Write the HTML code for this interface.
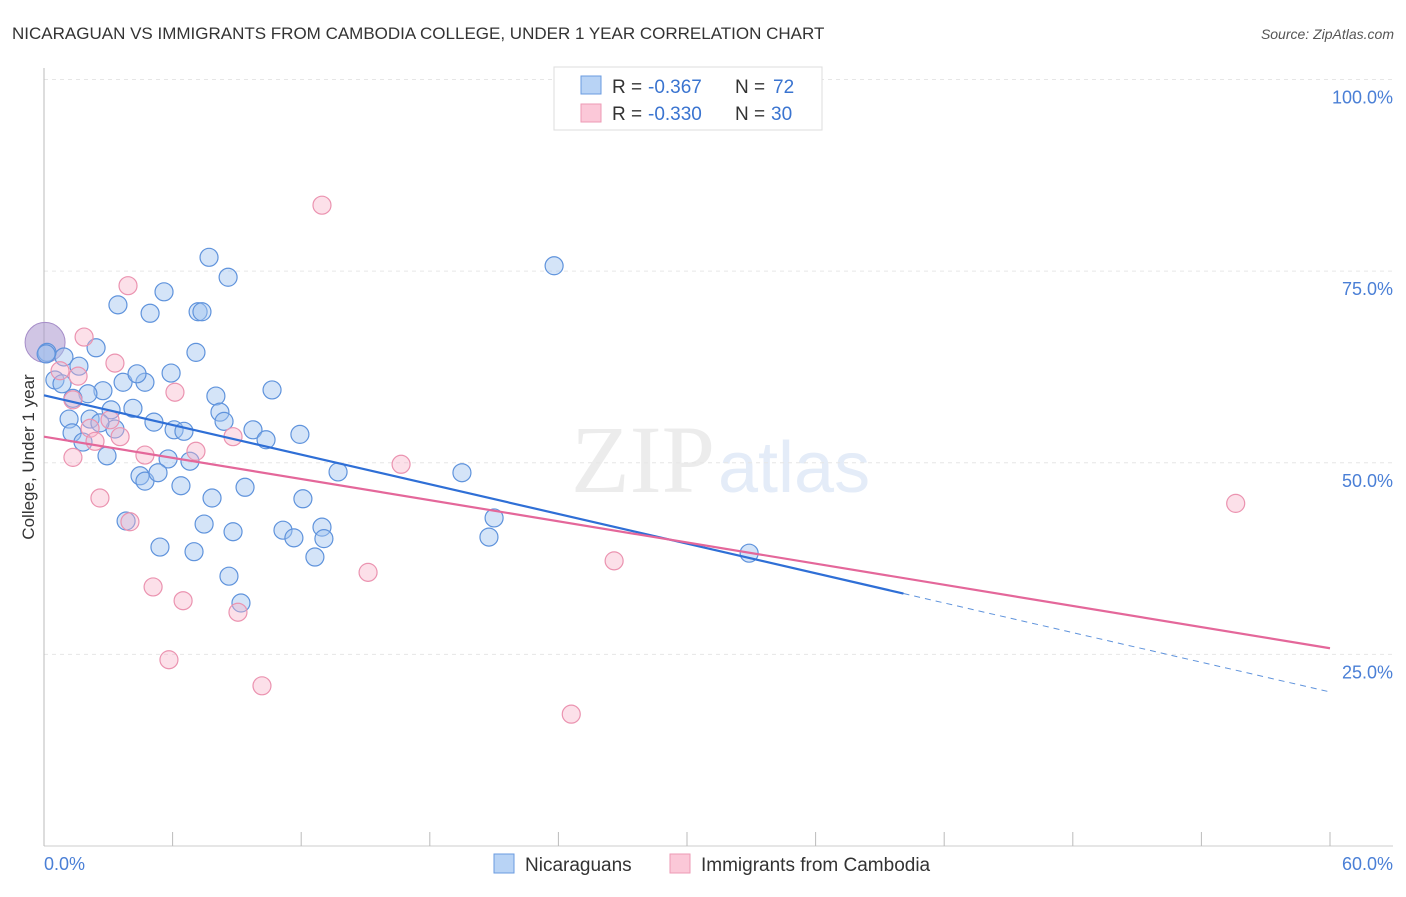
<!DOCTYPE html>
<html><head><meta charset="utf-8"><style>
body{margin:0;background:#fff;font-family:"Liberation Sans",sans-serif}
</style></head><body>
<svg id="c" width="1406" height="892" xmlns="http://www.w3.org/2000/svg" font-family="Liberation Sans, sans-serif">
<text x="12" y="39" font-size="17" fill="#333">NICARAGUAN VS IMMIGRANTS FROM CAMBODIA COLLEGE, UNDER 1 YEAR CORRELATION CHART</text>
<text x="1394" y="39" font-size="14" fill="#555" font-style="italic" text-anchor="end">Source: ZipAtlas.com</text>
<text x="715" y="492" font-size="96" fill="#ececec" font-family="Liberation Serif, serif" text-anchor="end">ZIP</text>
<text x="718" y="492" font-size="72" fill="#e4ecf8">atlas</text>
<g id="grid"></g><g id="axes"></g><g id="pts"></g><g id="lines"></g>
<text transform="translate(34,457) rotate(-90)" font-size="17" fill="#333" text-anchor="middle">College, Under 1 year</text>
<g>
<rect x="554" y="67" width="268" height="63" fill="#fff" stroke="#ddd"/>
<rect x="581" y="76" width="20" height="18" fill="#b8d3f5" stroke="#6a9be0"/>
<rect x="581" y="104" width="20" height="18" fill="#fbc8d8" stroke="#ee9ab5"/>
<text x="612" y="93" font-size="19" fill="#333">R =</text>
<text x="648" y="93" font-size="19" fill="#3a74d0">-0.367</text>
<text x="735" y="93" font-size="19" fill="#333">N =</text>
<text x="773" y="93" font-size="19" fill="#3a74d0">72</text>
<text x="612" y="120" font-size="19" fill="#333">R =</text>
<text x="648" y="120" font-size="19" fill="#3a74d0">-0.330</text>
<text x="735" y="120" font-size="19" fill="#333">N =</text>
<text x="771" y="120" font-size="19" fill="#3a74d0">30</text>
</g>
<g>
<rect x="494" y="854" width="20" height="19" fill="#b8d3f5" stroke="#6a9be0"/>
<text x="525" y="871" font-size="19" fill="#333">Nicaraguans</text>
<rect x="670" y="854" width="20" height="19" fill="#fbc8d8" stroke="#ee9ab5"/>
<text x="701" y="871" font-size="19" fill="#333">Immigrants from Cambodia</text>
</g>
</svg>
<script>
const yTicks=[100,75,50,25];
const yTickLabels=["100.0%","75.0%","50.0%","25.0%"];
const xTicks=[0,6,12,18,24,30,36,42,48,54,60];
const blueX=[7.70,8.59,23.8,5.60,3.45,4.95,7.19,7.37,7.09,2.43,0.93,1.63,0.14,0.51,0.84,2.75,3.69,4.71,4.34,5.93,8.02,10.64,2.05,1.35,3.13,4.15,8.21,8.40,2.15,1.17,5.13,6.07,6.53,9.75,10.36,11.94,1.31,1.82,3.31,2.94,5.79,6.81,13.72,19.5,4.48,4.71,5.32,6.39,9.38,7.84,12.08,3.83,7.47,8.82,11.15,11.66,12.97,13.06,21.0,20.76,5.41,7.0,12.64,32.9,8.63,9.19,2.61,0.1];
const blueY=[76.8,74.2,75.7,72.3,70.6,69.5,69.7,69.7,64.4,65.0,63.8,62.6,64.4,60.8,60.3,59.4,60.5,60.5,61.6,61.7,58.7,59.5,59.0,58.4,56.9,57.1,56.6,55.4,55.7,55.7,55.3,54.3,54.1,54.3,53.0,53.7,53.9,52.7,54.4,50.9,50.5,50.2,48.8,48.7,48.3,47.6,48.7,47.0,46.8,45.4,45.3,42.4,42.0,41.0,41.2,40.2,41.6,40.1,42.8,40.3,39.0,38.4,37.7,38.2,35.2,31.7,55.2,64.2];
const pinkX=[12.97,3.92,1.87,3.31,0.75,1.59,1.35,6.11,3.08,2.15,2.38,3.55,8.82,7.09,4.71,1.35,16.66,2.61,4.01,55.6,26.6,15.12,5.09,6.49,9.05,5.83,10.17,24.6];
const pinkY=[83.6,73.1,66.4,63.0,62.0,61.3,58.2,59.2,55.6,54.5,52.8,53.4,53.4,51.5,51.0,50.7,49.8,45.4,42.3,44.7,37.2,35.7,33.8,32.0,30.5,24.3,20.9,17.2];
const bigX=[0.05], bigY=[65.7];
const blueFit=[58.8,20.1], blueSolidEnd=[40.1];
const pinkFit=[53.4,25.8];
const X=v=>44+v/60*1286, Y=v=>846-v/100*766.5;
const NS="http://www.w3.org/2000/svg";
function mk(p,t,a){const e=document.createElementNS(NS,t);for(const k in a)e.setAttribute(k,a[k]);document.getElementById(p).appendChild(e);return e;}
yTicks.forEach((t,i)=>{
 const l=mk('grid','line',{x1:44,x2:1393,y1:Y(t),y2:Y(t),stroke:'#e6e6e6','stroke-dasharray':'4,4'});
 
 
 const tx=mk('grid','text',{x:1393,y:Y(t)+24,'font-size':18,fill:'#4a7fd6','text-anchor':'end'});
 tx.textContent=yTickLabels[i];
 
 
});
mk('axes','line',{x1:44,x2:44,y1:68,y2:846,stroke:'#bbb'});
mk('axes','line',{x1:44,x2:1393,y1:846,y2:846,stroke:'#ccc'});
xTicks.forEach(t=>{const l=mk('axes','line',{x1:X(t),x2:X(t),y1:832,y2:846,stroke:'#bbb'});
 
 });
const x0=mk('axes','text',{x:44,y:870,'font-size':18,fill:'#4a7fd6'});x0.textContent='0.0%';


const x1=mk('axes','text',{x:1393,y:870,'font-size':18,fill:'#4a7fd6','text-anchor':'end'});x1.textContent='60.0%';


bigX.forEach((v,i)=>{const c=mk('pts','circle',{cx:X(v),cy:Y(bigY[i]),r:20,fill:'rgba(170,150,205,0.55)',stroke:'#a58cc8'});
 
 });
blueX.forEach((v,i)=>{const c=mk('pts','circle',{cx:X(v),cy:Y(blueY[i]),r:9,fill:'rgba(160,196,240,0.45)',stroke:'#5f93dc','stroke-width':1.2});
 
 });
pinkX.forEach((v,i)=>{const c=mk('pts','circle',{cx:X(v),cy:Y(pinkY[i]),r:9,fill:'rgba(248,178,200,0.4)',stroke:'#eb93b0','stroke-width':1.2});
 
 });
const bAt=x=>blueFit[0]+(blueFit[1]-blueFit[0])*x/60;
const b1=mk('lines','line',{x1:X(0),y1:Y(bAt(0)),x2:X(blueSolidEnd[0]),y2:Y(bAt(blueSolidEnd[0])),stroke:'#2f6fd6','stroke-width':2.2});


const b2=mk('lines','line',{x1:X(blueSolidEnd[0]),y1:Y(bAt(blueSolidEnd[0])),x2:X(60),y2:Y(bAt(60)),stroke:'#5f93dc','stroke-width':1,'stroke-dasharray':'6,5'});


const p1=mk('lines','line',{x1:X(0),y1:Y(pinkFit[0]),x2:X(60),y2:Y(pinkFit[1]),stroke:'#e4679a','stroke-width':2.2});


</script>
</body></html>
